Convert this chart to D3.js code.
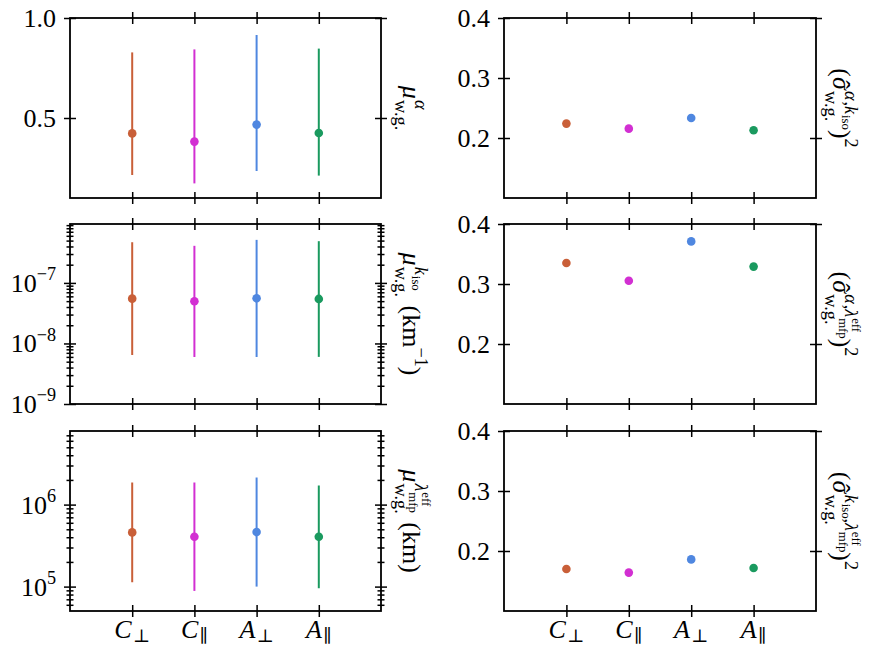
<!DOCTYPE html>
<html>
<head>
<meta charset="utf-8">
<script src="https://cdn.jsdelivr.net/npm/d3@7"></script>
<style>
body { margin: 0; background: #fff; }
</style>
</head>
<body>
<svg id="fig" width="872" height="661"></svg>
<script>
// categories and colours
const categories = ['C⊥', 'C∥', 'A⊥', 'A∥'];
const catBase = ['C', 'C', 'A', 'A'];
const catSub = ['⊥', '∥', '⊥', '∥'];
const colors = ['#c95f38', '#d22fd2', '#4f87e0', '#1a9a5f'];

// left column: median with interval
const muAlpha = [0.423, 0.382, 0.467, 0.425];
const muAlphaLo = [0.215, 0.173, 0.235, 0.212];
const muAlphaHi = [0.828, 0.843, 0.915, 0.847];

const muKiso = [5.5e-8, 4.98e-8, 5.58e-8, 5.44e-8];
const muKisoLo = [6.45e-9, 5.98e-9, 5.98e-9, 6.0e-9];
const muKisoHi = [4.7e-7, 4.1e-7, 5.14e-7, 4.89e-7];

const muLambda = [4.58e5, 4.06e5, 4.63e5, 4.06e5];
const muLambdaLo = [1.13e5, 8.86e4, 1.0e5, 9.55e4];
const muLambdaHi = [1.86e6, 1.86e6, 2.14e6, 1.71e6];

// right column: squared correlations
const sigAlphaK = [0.224, 0.2156, 0.2333, 0.2128];
const sigAlphaL = [0.335, 0.3055, 0.371, 0.329];
const sigKL = [0.170, 0.164, 0.186, 0.1717];

// tick values
const linTicks1 = [0.5, 1.0];
const sigTicksLeft = [0.2, 0.3, 0.4];
const sigTicksRight = [0.2, 0.4];
const logTicks2 = [1e-9, 1e-8, 1e-7];
const logTicks3 = [1e5, 1e6];

const svg = d3.select('#fig');
const FS = 26;
const FONT = '"Liberation Serif", "DejaVu Serif", "DejaVu Sans", serif';

const it = (s) => ({ s: s, it: true });

// tiny math layout: text runs, super/subscripts, hat
function lay(g, nodes, x, y, size, lvl) {
    nodes.forEach((n) => {
        if (typeof n === 'string' || n.s !== undefined) {
            const s = typeof n === 'string' ? n : n.s;
            const t = g.append('text').attr('x', x).attr('y', y)
                .attr('font-family', FONT).attr('font-size', size).text(s);
            if (n.it) t.attr('font-style', 'italic');
            x += t.node().getComputedTextLength() + (n.it ? size * 0.05 : 0);
        } else if (n.sp) {
            x += n.sp * size;
        } else if (n.hat) {
            const t = g.append('text').attr('x', x).attr('y', y)
                .attr('font-family', FONT).attr('font-size', size)
                .attr('font-style', 'italic').text(n.hat);
            const w = t.node().getComputedTextLength();
            g.append('text').attr('x', x + w * 0.6).attr('y', y + size * 0.02)
                .attr('font-family', FONT).attr('text-anchor', 'middle')
                .attr('font-size', size).text('ˆ');
            x += w + size * 0.05;
        } else {
            const xe = n.base ? lay(g, [n.base], x, y, size, lvl) : x;
            const ss = size * 0.7;
            const up = size * (lvl === 0 ? 0.45 : 0.38);
            const dn = size * (n.sup ? 0.3 : 0.17);
            let x1 = xe, x2 = xe;
            if (n.sup) x1 = lay(g, n.sup, xe, y - up, ss, lvl + 1);
            if (n.sub) x2 = lay(g, n.sub, xe, y + dn, ss, lvl + 1);
            x = Math.max(x1, x2);
        }
    });
    return x;
}

function mathText(parent, nodes, size) {
    const g = parent.append('g');
    const w = lay(g, nodes, 0, 0, size, 0);
    return { g: g, w: w };
}

const kiso = { base: it('k'), sub: ['iso'] };
const lam = { base: it('λ'), sup: ['eff'], sub: ['mfp'] };

const panels = [
    { col: 0, row: 0, type: 'lin', domain: [0.1, 1.0], mid: muAlpha, lo: muAlphaLo, hi: muAlphaHi,
      ticks: linTicks1, rticks: linTicks1,
      label: [{ base: it('μ'), sup: [it('α')], sub: ['w.g.'] }] },
    { col: 0, row: 1, type: 'log', domain: [1e-9, 9.4e-7], mid: muKiso, lo: muKisoLo, hi: muKisoHi,
      ticks: logTicks2,
      label: [{ base: it('μ'), sup: [kiso], sub: ['w.g.'] }, { sp: 0.33 }, { base: '(km', sup: ['−1'] }, ')'] },
    { col: 0, row: 2, type: 'log', domain: [5.04e4, 7.9e6], mid: muLambda, lo: muLambdaLo, hi: muLambdaHi,
      ticks: logTicks3,
      label: [{ base: it('μ'), sup: [lam], sub: ['w.g.'] }, { sp: 0.33 }, '(km)'] },
    { col: 1, row: 0, type: 'lin', domain: [0.1, 0.4], mid: sigAlphaK,
      ticks: sigTicksLeft, rticks: sigTicksRight,
      label: ['(', { base: { hat: 'σ' }, sup: [it('α'), ',', kiso], sub: ['w.g.'] }, { base: ')', sup: ['2'] }] },
    { col: 1, row: 1, type: 'lin', domain: [0.1, 0.4], mid: sigAlphaL,
      ticks: sigTicksLeft, rticks: sigTicksRight,
      label: ['(', { base: { hat: 'σ' }, sup: [it('α'), ',', lam], sub: ['w.g.'] }, { base: ')', sup: ['2'] }] },
    { col: 1, row: 2, type: 'lin', domain: [0.1, 0.4], mid: sigKL,
      ticks: sigTicksLeft, rticks: sigTicksRight,
      label: ['(', { base: { hat: 'σ' }, sup: [kiso, ',', lam], sub: ['w.g.'] }, { base: ')', sup: ['2'] }] }
];

const colX = [[70, 381], [504, 816]];
const rowY = [[18, 198], [224, 404], [431, 611]];
const labelX = [403, 833];

function inout(g, len, side) {
    // turn one-sided d3 ticks into ticks crossing the frame
    g.select('.domain').remove();
    g.selectAll('.tick line').attr('stroke-width', 1.5);
    if (side === 'x') g.selectAll('.tick line').attr('x1', len);
    else g.selectAll('.tick line').attr('y1', len);
}

function minorTicks(domain) {
    const out = [];
    const a = Math.floor(Math.log10(domain[0])), b = Math.ceil(Math.log10(domain[1]));
    for (let e = a; e <= b; e++) {
        for (let m = 2; m <= 9; m++) {
            const v = m * Math.pow(10, e);
            if (v >= domain[0] && v <= domain[1]) out.push(v);
        }
    }
    return out;
}

panels.forEach((p) => {
    const [x0, x1] = colX[p.col];
    const [y0, y1] = rowY[p.row];
    const x = d3.scaleLinear().domain([-1, 4]).range([x0, x1]);
    const y = (p.type === 'log' ? d3.scaleLog() : d3.scaleLinear()).domain(p.domain).range([y1, y0]);
    const chart = svg.append('g');

    // error bars
    if (p.lo) {
        chart.selectAll('.err').data(categories).enter().append('line')
            .attr('x1', (d, i) => x(i)).attr('x2', (d, i) => x(i))
            .attr('y1', (d, i) => y(p.lo[i])).attr('y2', (d, i) => y(p.hi[i]))
            .attr('stroke', (d, i) => colors[i]).attr('stroke-width', 2);
    }
    chart.selectAll('.pt').data(categories).enter().append('circle')
        .attr('cx', (d, i) => x(i)).attr('cy', (d, i) => y(p.mid[i]))
        .attr('r', 4.3).attr('fill', (d, i) => colors[i]);

    // frame
    chart.append('rect').attr('x', x0).attr('y', y0)
        .attr('width', x1 - x0).attr('height', y1 - y0)
        .attr('fill', 'none').attr('stroke', '#000').attr('stroke-width', 1.8);

    const catIdx = categories.map((d, i) => i);
    chart.append('g').attr('transform', `translate(0,${y1})`)
        .call(d3.axisBottom(x).tickValues(catIdx).tickSize(6).tickFormat(''))
        .call((g) => inout(g, -6, 'y'));
    chart.append('g').attr('transform', `translate(0,${y0})`)
        .call(d3.axisTop(x).tickValues(catIdx).tickSize(6).tickFormat(''))
        .call((g) => inout(g, 6, 'y'));

    const rticks = p.type === 'log' ? p.ticks : p.rticks;
    chart.append('g').attr('transform', `translate(${x0},0)`)
        .call(d3.axisLeft(y).tickValues(p.ticks).tickSize(6).tickFormat(''))
        .call((g) => inout(g, 6, 'x'));
    chart.append('g').attr('transform', `translate(${x1},0)`)
        .call(d3.axisRight(y).tickValues(rticks).tickSize(6).tickFormat(''))
        .call((g) => inout(g, -6, 'x'));
    if (p.type === 'log') {
        const mt = minorTicks(p.domain);
        chart.append('g').attr('transform', `translate(${x0},0)`)
            .call(d3.axisLeft(y).tickValues(mt).tickSize(3.5).tickFormat(''))
            .call((g) => inout(g, 3.5, 'x'));
        chart.append('g').attr('transform', `translate(${x1},0)`)
            .call(d3.axisRight(y).tickValues(mt).tickSize(3.5).tickFormat(''))
            .call((g) => inout(g, -3.5, 'x'));
    }

    // y tick labels
    p.ticks.forEach((v) => {
        let nodes;
        if (p.type === 'log') {
            const e = Math.round(Math.log10(v));
            nodes = [{ base: '10', sup: [String(e).replace('-', '−')] }];
        } else {
            nodes = [d3.format('.1f')(v)];
        }
        const m = mathText(chart, nodes, FS);
        m.g.attr('transform', `translate(${x0 - 14 - m.w},${y(v) + 9})`);
    });

    // x tick labels on bottom row
    if (p.row === 2) {
        catIdx.forEach((i) => {
            const m = mathText(chart, [{ base: it(catBase[i]), sub: [catSub[i]] }], FS);
            m.g.attr('transform', `translate(${x(i) - m.w / 2},638)`);
        });
    }

    // rotated label on the right
    const outer = chart.append('g')
        .attr('transform', `translate(${labelX[p.col]},${(y0 + y1) / 2}) rotate(90)`);
    const m = mathText(outer, p.label, FS);
    m.g.attr('transform', `translate(${-m.w / 2},0)`);
});
</script>
</body>
</html>
